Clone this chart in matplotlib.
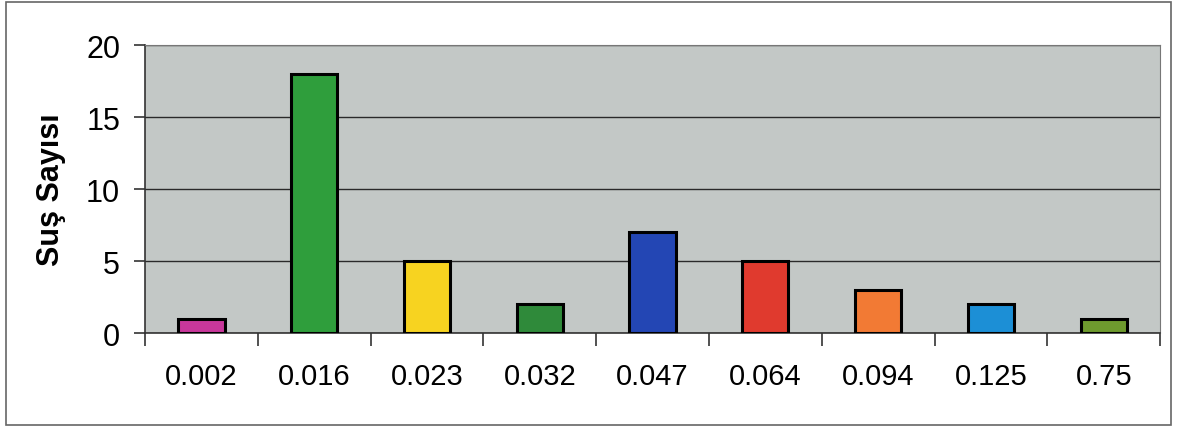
import matplotlib.pyplot as plt
import matplotlib.patches as patches
import numpy as np

categories = ["0.002", "0.016", "0.023", "0.032", "0.047", "0.064", "0.094", "0.125", "0.75"]
counts = [1, 18, 5, 2, 7, 5, 3, 2, 1]
colors = ["#c8379b", "#2f9e3c", "#f7d320", "#2f8a3a", "#2346b4",
          "#e03a2e", "#f27a34", "#1c8fd6", "#6e9a2e"]

plt.rcParams["font.family"] = ["Liberation Sans", "DejaVu Sans"]

fig = plt.figure(figsize=(11.79, 4.31), dpi=100)
ax = fig.add_axes([0.123, 0.225, 0.861, 0.668])

x = np.arange(len(categories))
ax.set_facecolor("#c3c8c6")
ax.bar(x, counts, width=0.41, color=colors, edgecolor="black", linewidth=2.2, zorder=3)

ax.set_xlim(-0.5, len(categories) - 0.5)
ax.set_ylim(0, 20)
ax.set_yticks([0, 5, 10, 15, 20])
ax.yaxis.grid(True, color="#2a2a2a", linewidth=1)
ax.set_axisbelow(True)

# category boundaries as tick marks, labels at the centres
ax.set_xticks(np.arange(-0.5, len(categories), 1))
ax.set_xticklabels([])
ax.set_xticks(x, minor=True)
ax.set_xticklabels(categories, minor=True, fontsize=21)
ax.tick_params(axis="x", which="major", length=9, width=1.2, color="#333")
ax.tick_params(axis="x", which="minor", length=0, pad=21)
ax.tick_params(axis="y", length=8, width=1.2, color="#333", labelsize=22, pad=10)

ax.spines["left"].set_color("#333")
ax.spines["bottom"].set_color("#333")
ax.spines["left"].set_linewidth(1.2)
ax.spines["bottom"].set_linewidth(1.2)
ax.spines["top"].set_color("#777")
ax.spines["right"].set_color("#777")

ax.set_ylabel("Suş Sayısı", fontsize=22, fontweight="bold", labelpad=14)

fig.patches.append(patches.Rectangle((0.005, 0.012), 0.988, 0.98, transform=fig.transFigure,
                                     fill=False, edgecolor="#666", linewidth=1.2))

fig.savefig("out.png", dpi=100)
